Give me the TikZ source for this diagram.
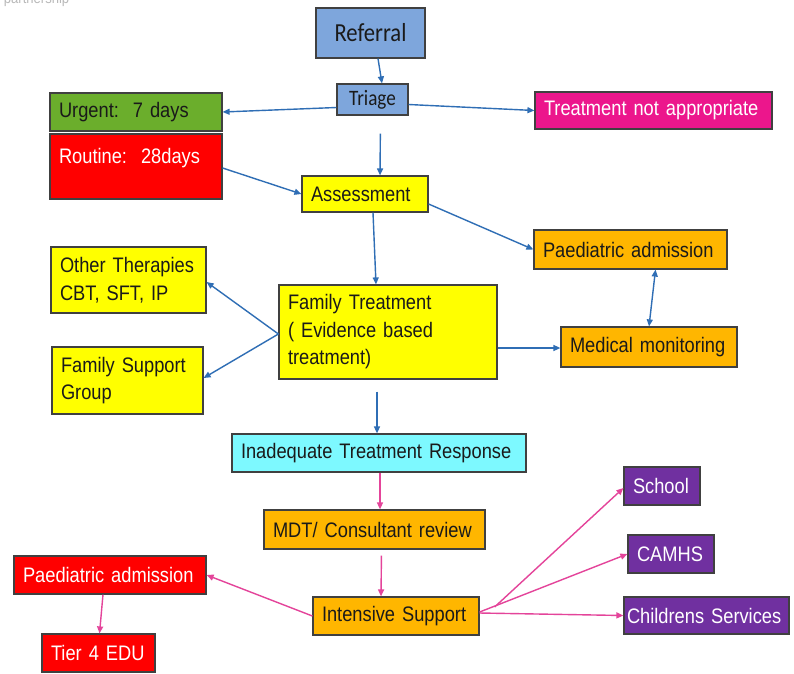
\documentclass[tikz,border=0pt]{standalone}
\usepackage{fontspec}
\setmainfont{Liberation Sans}[FakeStretch=0.87]
\newfontfamily\calfont{Carlito}[FakeStretch=0.87]
\usetikzlibrary{arrows.meta}
\definecolor{textdark}{HTML}{1A1A1A}
\definecolor{bordergray}{HTML}{404040}
\definecolor{boxblue}{HTML}{7EA6DC}
\definecolor{boxgreen}{HTML}{6BAE2C}
\definecolor{boxred}{HTML}{FF0000}
\definecolor{boxyellow}{HTML}{FFFF00}
\definecolor{boxorange}{HTML}{FFB600}
\definecolor{boxmagenta}{HTML}{EC168C}
\definecolor{boxcyan}{HTML}{7DF9FF}
\definecolor{boxpurple}{HTML}{7030A0}
\definecolor{arrowblue}{HTML}{2F6EB5}
\definecolor{arrowpink}{HTML}{E4449A}
\begin{document}
\begin{tikzpicture}[x=1pt,y=-1pt,
  box/.style={draw=bordergray, line width=1.2pt, inner xsep=9pt, inner ysep=2pt,
    font=\fontsize{21}{27.5}\selectfont, text=textdark, align=left},
  cbox/.style={box, align=center, inner xsep=0pt},
  whitetext/.style={text=white},
  barrow/.style={draw=arrowblue, line width=1.4pt, -{Triangle[length=7pt,width=6pt]}},
  bbarrow/.style={draw=arrowblue, line width=1.4pt, {Triangle[length=7pt,width=6pt]}-{Triangle[length=7pt,width=6pt]}},
  parrow/.style={draw=arrowpink, line width=1.4pt, -{Triangle[length=7pt,width=6pt]}}]
\fill[white] (0,0) rectangle (794,673);
\useasboundingbox (0,0) rectangle (794,673);

\node[anchor=base west, text=gray!55, font=\fontsize{15}{18}\selectfont, inner sep=0pt] (tl) at (-10,3) {in partnership};

% top section
\node[cbox, fill=boxblue, minimum width=109pt, minimum height=50pt, font=\calfont\fontsize{26}{30}\selectfont] (ref) at (370.5,33) {Referral};
\node[cbox, fill=boxblue, minimum width=71pt, minimum height=31pt, font=\calfont\fontsize{22}{26}\selectfont] (tri) at (372.5,99.5) {Triage};
\node[box, fill=boxmagenta, whitetext, text width=219pt, minimum height=37pt] (tna) at (653.5,110.5) {Treatment not appropriate};
\node[box, fill=boxgreen, text width=154pt, minimum height=38pt] (urg) at (136,112) {Urgent:\ \ 7 days};
\node[box, fill=boxred, whitetext, text width=154pt, text height=27pt, text depth=34pt] (rou) at (136,166.5) {Routine:\ \ 28days};
\node[box, fill=boxyellow, text width=108pt, minimum height=36pt] (ass) at (365,194) {Assessment};
\node[box, fill=boxorange, text width=175pt, minimum height=39pt] (pad) at (630.5,249.5) {Paediatric admission};
\node[box, fill=boxorange, text width=158pt, minimum height=40pt] (med) at (649,347) {Medical monitoring};
\node[box, fill=boxyellow, text width=137pt, minimum height=66pt] (oth) at (128.5,280) {Other Therapies\\CBT, SFT, IP};
\node[box, fill=boxyellow, text width=133pt, minimum height=67pt] (fsg) at (127.5,380.5) {Family Support\\Group};
\node[box, fill=boxyellow, text width=200pt, minimum height=94pt] (ft) at (388,332) {Family Treatment\\( Evidence based\\treatment)};

% bottom section
\node[box, fill=boxcyan, text width=276pt, minimum height=38pt] (inad) at (379,453) {Inadequate Treatment Response};
\node[box, fill=boxorange, text width=203pt, minimum height=39pt] (mdt) at (374.5,529.5) {MDT/ Consultant review};
\node[box, fill=boxorange, text width=148pt, minimum height=38pt] (int) at (396,616) {Intensive Support};
\node[box, fill=boxred, whitetext, text width=174pt, minimum height=38pt] (pade) at (110,575) {Paediatric admission};
\node[box, fill=boxred, whitetext, text width=95pt, minimum height=38pt] (tier) at (98.5,653) {Tier 4 EDU};
\node[box, fill=boxpurple, whitetext, text width=58pt, minimum height=38pt] (school) at (662,486) {School};
\node[box, fill=boxpurple, whitetext, text width=68pt, minimum height=38pt] (camhs) at (671,554) {CAMHS};
\node[box, fill=boxpurple, whitetext, inner xsep=3pt, text width=159pt, minimum height=37pt] (chs) at (706.5,615.5) {\mbox{Childrens Services}};

% blue connectors
\draw[barrow] ([xshift=7.5pt]ref.south) -- ([xshift=9.5pt]tri.north);
\draw[barrow] ([yshift=-8pt]tri.west) -- (urg.east);
\draw[barrow] ([yshift=-5pt]tri.east) -- (tna.west);
\draw[barrow, shorten <=18pt] ([xshift=8pt]tri.south) -- ([xshift=15pt]ass.north);
\draw[barrow] ([yshift=-1.5pt]rou.east) -- (ass.west);
\draw[barrow] ([xshift=8pt]ass.south) -- ([xshift=-12pt]ft.north);
\draw[barrow] ([yshift=-10pt]ass.east) -- (pad.west);
\draw[bbarrow] ([xshift=25pt]pad.south) -- (med.north);
\draw[barrow] ([yshift=-2pt]ft.west) -- ([yshift=-2pt]oth.east);
\draw[barrow] ([yshift=-2pt]ft.west) -- ([yshift=2.5pt]fsg.east);
\draw[barrow] ([yshift=-16pt]ft.east) -- ([yshift=-1pt]med.west);
\draw[barrow, shorten <=12pt] ([xshift=-11pt]ft.south) -- ([xshift=-2pt]inad.north);

% pink connectors
\draw[parrow] ([xshift=1pt]inad.south) -- ([xshift=5.5pt]mdt.north);
\draw[parrow, shorten <=6pt] ([xshift=7pt]mdt.south) -- ([xshift=-15pt]int.north);
\draw[parrow] (int.west) -- (pade.east);
\draw[parrow] ([xshift=-7pt]pade.south) -- ([xshift=1pt]tier.north);
\draw[parrow] ([xshift=15pt,yshift=9pt]int.east) -- ([yshift=-2pt]school.west);
\draw[parrow] ([yshift=4pt]int.east) -- (camhs.west);
\draw[parrow] ([yshift=3pt]int.east) -- (chs.west);
\end{tikzpicture}
\end{document}
